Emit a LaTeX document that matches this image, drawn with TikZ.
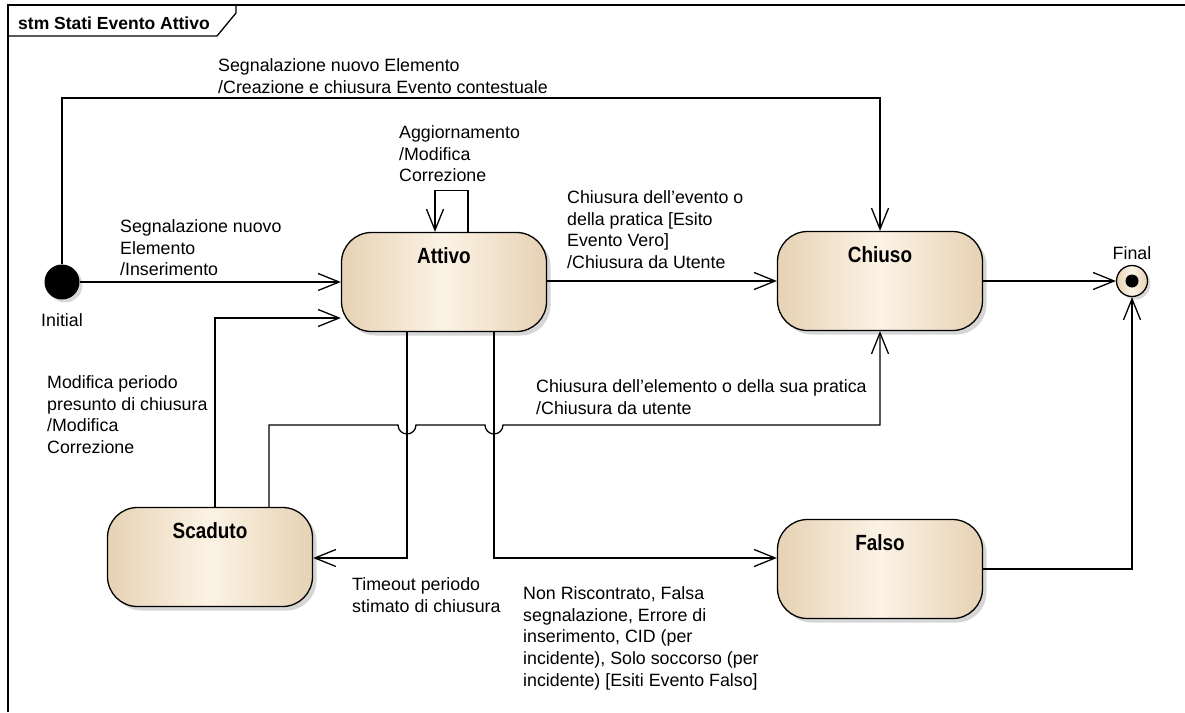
\documentclass[tikz,border=0pt]{standalone}
\usepackage{fontspec}
\setmainfont{Liberation Sans}
\newfontfamily\statefont[FakeStretch=0.86]{Liberation Sans}
\usetikzlibrary{arrows.meta,shadows}

\definecolor{stateedge}{RGB}{230,210,180}
\definecolor{statemid}{RGB}{252,243,229}

\tikzset{
  state/.style={draw=black, line width=1.3pt, rounded corners=30pt,
    minimum width=205pt, inner sep=0pt, text height=31pt, text depth=68pt,
    left color=stateedge, right color=stateedge, middle color=statemid,
    drop shadow={shadow xshift=4pt, shadow yshift=-4pt, fill=black!32},
    font=\statefont\bfseries\fontsize{22}{25}\selectfont},
  lbl/.style={anchor=north west, inner sep=0pt, align=left,
    font=\fontsize{17.8}{21.6}\selectfont},
  trans/.style={draw=black, line width=1.3pt,
    -{Straight Barb[length=21pt,width=17pt]}},
  plain/.style={draw=black, line width=1.3pt},
}

\begin{document}
\begin{tikzpicture}[x=1pt,y=-1pt]
\useasboundingbox (0,0) rectangle (1185,712);

% diagram frame and title tab
\draw[plain] (8,712) -- (8,5) -- (1185,5);
\draw[plain] (8,36) -- (217,36) -- (236,13) -- (236,5);
\node[anchor=west, inner sep=0pt, font=\bfseries\fontsize{17.5}{20}\selectfont]
  (title) at (18,23) {stm Stati Evento Attivo};

% states
\node[state] (attivo)  at (444,282) {Attivo};
\node[state] (chiuso)  at (880,281) {Chiuso};
\node[state] (scaduto) at (210,557) {Scaduto};
\node[state] (falso)   at (880,569) {Falso};

% pseudo states
\node[circle, fill=black, minimum size=35pt, inner sep=0pt,
  drop shadow={shadow xshift=3pt, shadow yshift=-3pt, fill=black!30}] (initial) at (62,282) {};
\node[font=\fontsize{17.8}{21.6}\selectfont, inner sep=0pt] (initlbl) at (62,320) {Initial};
\node[circle, draw=black, line width=1.3pt, minimum size=31pt, inner sep=0pt,
  left color=stateedge, right color=stateedge, middle color=statemid,
  drop shadow={shadow xshift=3pt, shadow yshift=-3pt, fill=black!30}] (final) at (1132,281) {};
\fill[black] (final.center) circle (6.5);
\node[font=\fontsize{17.8}{21.6}\selectfont, inner sep=0pt] (finallbl) at (1132,253) {Final};

% transitions
\coordinate (topbend) at (62,98);
\draw[trans] (initial.north) -- (topbend) -| (chiuso.north);
\draw[trans] (initial.east) -- (attivo.west);
\draw[trans] ([xshift=24pt]attivo.north) -- ++(0,-41.5) -- ++(-33,0) -- ([xshift=-9pt]attivo.north);
\draw[trans] ([yshift=1pt]attivo.east) -- ([yshift=1pt]attivo.east -| chiuso.west);
\draw[trans] (chiuso.east) -- (final.west);
\draw[trans] ([xshift=5pt]scaduto.north) |- ([yshift=-36pt]attivo.west);
\draw[trans] ([xshift=59pt]scaduto.north) -- (269,425) -- (398,425)
  arc[start angle=180, end angle=0, radius=9] -- (485,425)
  arc[start angle=180, end angle=0, radius=9] -- (880,425) -- (chiuso.south);
\draw[trans] ([xshift=-37pt]attivo.south) |- ([yshift=-1pt]scaduto.east);
\draw[trans] ([xshift=50pt]attivo.south) |- ([yshift=11pt]falso.west);
\draw[trans] (falso.east) -| (final.south);

% transition labels
\node[lbl] (l1) at (218,58.5) {Segnalazione nuovo Elemento\\/Creazione e chiusura Evento contestuale};
\node[lbl] (l2) at (120,219.5) {Segnalazione nuovo\\Elemento\\/Inserimento};
\node[lbl] (l3) at (399,125.5) {Aggiornamento\\/Modifica\\Correzione};
\node[lbl] (l4) at (567,190.5) {Chiusura dell'evento o\\della pratica [Esito\\Evento Vero]\\/Chiusura da Utente};
\node[lbl] (l5) at (47,375.5) {Modifica periodo\\presunto di chiusura\\/Modifica\\Correzione};
\node[lbl] (l6) at (536,379.5) {Chiusura dell'elemento o della sua pratica\\/Chiusura da utente};
\node[lbl] (l7) at (352,577.5) {Timeout periodo\\stimato di chiusura};
\node[lbl] (l8) at (523,586.5) {Non Riscontrato, Falsa\\segnalazione, Errore di\\inserimento, CID (per\\incidente), Solo soccorso (per\\incidente) [Esiti Evento Falso]};
\end{tikzpicture}
\end{document}
